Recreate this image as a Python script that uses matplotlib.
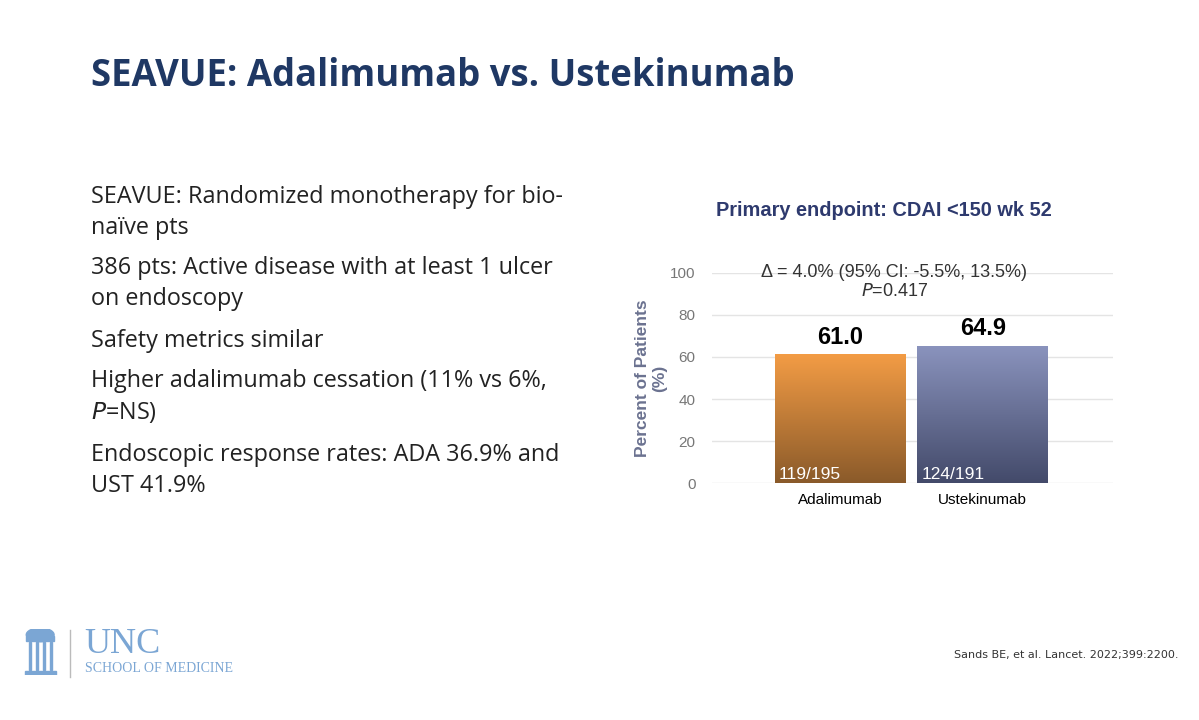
import numpy as np
import matplotlib
matplotlib.use("Agg")
from matplotlib import pyplot as plt
from matplotlib.colors import LinearSegmentedColormap
from matplotlib.patches import Rectangle, Ellipse

# chart data
drugs = ["Adalimumab", "Ustekinumab"]
percent = [61.0, 64.9]
counts = ["119/195", "124/191"]
yticks = [0, 20, 40, 60, 80, 100]
bullets = [
    "SEAVUE: Randomized monotherapy for bio-\nnaïve pts",
    "386 pts: Active disease with at least 1 ulcer\non endoscopy",
    "Safety metrics similar",
    "Higher adalimumab cessation (11% vs 6%,\n$\\it{P}$=NS)",
    "Endoscopic response rates: ADA 36.9% and\nUST 41.9%",
]
bullet_y = [0.705, 0.606, 0.526, 0.449, 0.346]

navy = "#1f3864"
fig = plt.figure(figsize=(11.99, 7.2), dpi=100)
fig.patch.set_facecolor("white")

fig.text(0.076, 0.895, "SEAVUE: Adalimumab vs. Ustekinumab", fontsize=26.3,
         fontweight="bold", color=navy, va="center", family="Open Sans")
for txt, y in zip(bullets, bullet_y):
    fig.text(0.076, y, txt, fontsize=16.8, color="#222222", va="center",
             family="Open Sans", linespacing=1.38)

fig.text(0.983, 0.09, "Sands BE, et al. Lancet. 2022;399:2200.", fontsize=8,
         ha="right", va="center", color="#333333")

# logo
lc = "#7ba6d4"
fig.text(0.07, 0.105, "UNC", fontsize=26, family="Liberation Serif", color=lc, va="center")
fig.text(0.071, 0.071, "SCHOOL OF MEDICINE", fontsize=10, family="Liberation Serif",
         color=lc, va="center")
la = fig.add_axes([0.019, 0.062, 0.029, 0.064])
la.set_xlim(0, 1); la.set_ylim(0, 1); la.axis("off")
la.add_patch(Rectangle((0.05, 0.0), 0.9, 0.1, color=lc))
la.add_patch(Rectangle((0.1, 0.75), 0.8, 0.1, color=lc))
la.add_patch(Ellipse((0.5, 0.88), 0.8, 0.3, color=lc))
for xc in [0.18, 0.38, 0.58, 0.78]:
    la.add_patch(Rectangle((xc, 0.12), 0.07, 0.6, color=lc))
fig.add_artist(plt.Line2D([0.058, 0.058], [0.06, 0.125], color="#bbbbbb", lw=1))

# chart
ax = fig.add_axes([0.594, 0.329, 0.334, 0.292])
x = np.arange(len(drugs))
w = 0.916
cmaps = [LinearSegmentedColormap.from_list("o", ["#8a5a2a", "#f39c45"]),
         LinearSegmentedColormap.from_list("b", ["#434a6a", "#8a93bd"])]
grad = np.linspace(0, 1, 256).reshape(-1, 1)
for xi, v, cm, c in zip(x, percent, cmaps, counts):
    ax.imshow(grad, cmap=cm, origin="lower", aspect="auto",
              extent=(xi - w / 2, xi + w / 2, 0, v), zorder=2)
    ax.text(xi, v + 3, f"{v:.1f}", ha="center", va="bottom", fontsize=17,
            fontweight="bold", family="Liberation Sans")
    ax.text(xi - 0.21, 0.5, c, ha="center", va="bottom", fontsize=12.5,
            color="white", family="Liberation Sans")
ax.set_xlim(-0.895, 1.91)
ax.set_ylim(0, 100)
ax.set_yticks(yticks)
ax.set_yticklabels([str(t) for t in yticks], family="Liberation Sans", fontsize=11, color="#777777")
ax.set_xticks(x)
ax.set_xticklabels(drugs, family="Liberation Sans", fontsize=11)
ax.tick_params(length=0, pad=12)
ax.tick_params(axis="x", pad=7)
ax.grid(axis="y", color="#e4e4e4", lw=1, zorder=0)
for s in ax.spines.values():
    s.set_visible(False)
ax.set_ylabel("Percent of Patients\n(%)", fontsize=12.5, fontweight="bold",
              color="#6b7290", family="Liberation Sans", labelpad=2)
ax.text(0.38, 100, "Δ = 4.0% (95% CI: -5.5%, 13.5%)", ha="center", va="center",
        fontsize=13, color="#333333", family="Liberation Sans")
ax.text(0.38, 91, "$\\it{P}$=0.417", ha="center", va="center",
        fontsize=13, color="#333333", family="Liberation Sans")
fig.text(0.737, 0.707, "Primary endpoint: CDAI <150 wk 52", ha="center", va="center",
         fontsize=14.4, fontweight="bold", color="#2e3a6e", family="Liberation Sans")

fig.savefig("out.png", dpi=100, facecolor="white")
